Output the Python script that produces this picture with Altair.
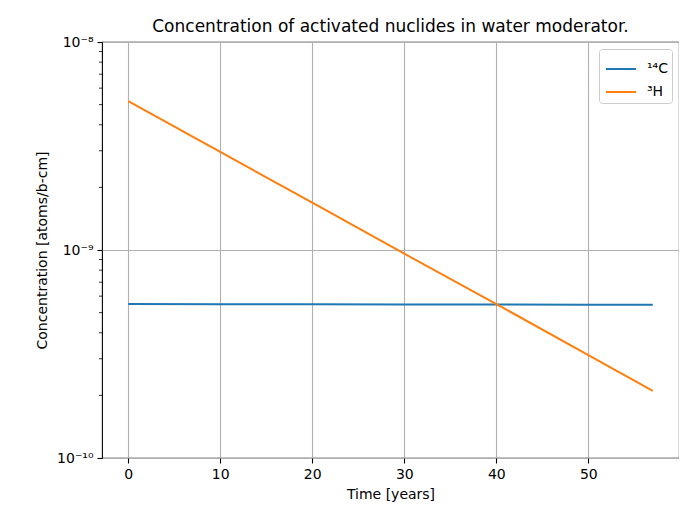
import altair as alt
import pandas as pd

# ---- data ----
years = [0, 10, 20, 30, 40, 50, 57]
c14_values = [5.50e-10, 5.49e-10, 5.48e-10, 5.47e-10, 5.47e-10, 5.46e-10, 5.45e-10]
h3_values = [5.20e-9, 2.96e-9, 1.69e-9, 0.96e-9, 0.55e-9, 0.312e-9, 0.21e-9]
series_names = ["¹⁴C", "³H"]
series_colors = ["#1f77b4", "#ff7f0e"]
x_tick_values = [0, 10, 20, 30, 40, 50]
y_major_ticks = [1e-10, 1e-9, 1e-8]
y_minor_ticks = [2e-10, 3e-10, 4e-10, 5e-10, 6e-10, 7e-10, 8e-10, 9e-10,
                 2e-9, 3e-9, 4e-9, 5e-9, 6e-9, 7e-9, 8e-9, 9e-9]

FONT = "DejaVu Sans"

df = pd.DataFrame({
    "t": years + years,
    "v": c14_values + h3_values,
    "s": [series_names[0]] * len(years) + [series_names[1]] * len(years),
})
minor_df = pd.DataFrame({"v": y_minor_ticks})

y_scale = alt.Scale(type="log", domain=[1e-10, 1e-8], nice=False)
y_axis = alt.Axis(values=y_major_ticks, title="Concentration [atoms/b-cm]",
                  labelExpr="datum.value >= 9.99e-9 ? '10⁻⁸' : (datum.value >= 9.99e-10 ? '10⁻⁹' : '10⁻¹⁰')",
                  titlePadding=7, labelPadding=4)

lines = alt.Chart(df).mark_line(strokeWidth=2, clip=True).encode(
    x=alt.X("t:Q",
            scale=alt.Scale(domain=[-2.85, 59.85], nice=False, zero=False),
            axis=alt.Axis(values=x_tick_values, title="Time [years]",
                          titlePadding=6, labelPadding=4)),
    y=alt.Y("v:Q", scale=y_scale, axis=y_axis),
    color=alt.Color("s:N",
                    scale=alt.Scale(domain=series_names, range=series_colors),
                    legend=alt.Legend(title=None, orient="top-right", offset=7,
                                      strokeColor="#cccccc", fillColor="white",
                                      cornerRadius=3, padding=4,
                                      symbolType="stroke", symbolSize=900,
                                      symbolOffset=2,
                                      symbolStrokeWidth=2, labelFontSize=14,
                                      labelFont=FONT, labelColor="black",
                                      rowPadding=-8, labelOffset=10)),
)

minor = alt.Chart(minor_df).mark_rule(color="black", strokeWidth=0.8).encode(
    y=alt.Y("v:Q", scale=y_scale, axis=y_axis),
    x=alt.value(0),
    x2=alt.value(-3),
)

chart = alt.layer(lines, minor).properties(
    width=577,
    height=416,
    background="white",
    title=alt.TitleParams("Concentration of activated nuclides in water moderator.",
                          fontSize=17, font=FONT, fontWeight="normal",
                          color="black", anchor="middle", offset=-1),
    padding={"left": 94, "top": 34, "right": 0, "bottom": 48},
    autosize=alt.AutoSizeParams(type="none"),
).configure_view(
    stroke="black", strokeWidth=1.1
).configure_axis(
    labelFont=FONT, labelFontSize=14, labelColor="black",
    titleFont=FONT, titleFontSize=14, titleFontWeight="normal", titleColor="black",
    tickColor="black", tickSize=5, tickWidth=1.1,
    domain=False, grid=True, gridColor="#b0b0b0", gridWidth=1.1,
)

chart.save("out.html", embed_options={"renderer": "svg", "actions": False})
